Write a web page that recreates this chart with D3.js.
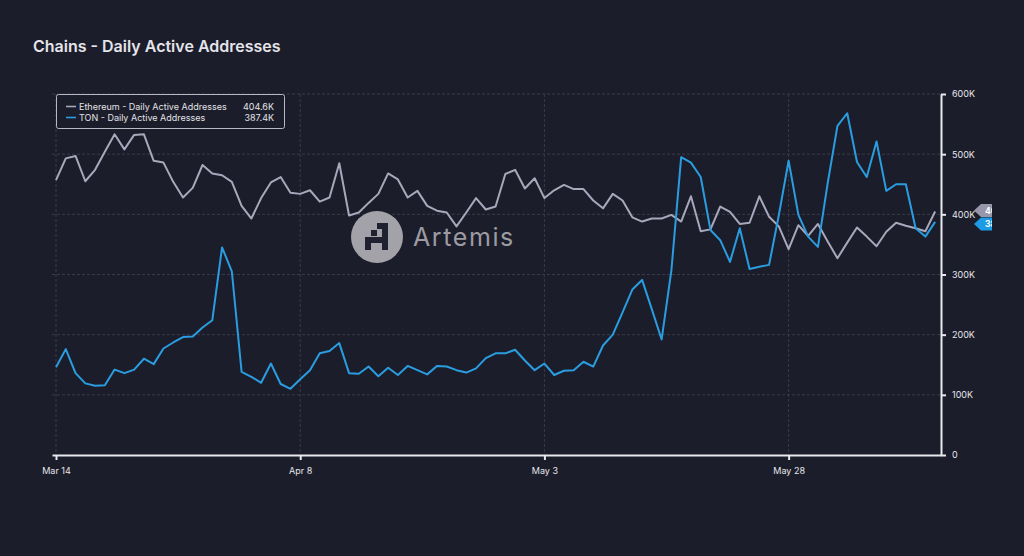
<!DOCTYPE html>
<html><head><meta charset="utf-8">
<script src="https://cdn.jsdelivr.net/npm/d3@7"></script>
<style>
html,body{margin:0;padding:0;background:#1c1d2a;}
svg{display:block;font-family:Inter,"Noto Sans",sans-serif;}
</style></head>
<body>
<script>
const startDate = "2024-03-14";
const ethValues = [457,493,497,455,474,504,533,508,532,533,489,486,454,428,444,482,468,465,454,414,393,427,453,462,436,434,440,421,428,485,398,403,419,434,468,458,428,439,414,406,403,380,403,427,408,413,467,474,443,460,427,440,449,442,442,423,410,434,423,395,388,393,393,399,388,430,372,375,413,404,384,386,430,396,380,342,382,364,384,355,327,353,378,363,347,371,386,381,377,372,404.6];
const tonValues = [146,176,136,119,115,116,142,136,142,160,151,177,187,196,197,212,224,345,305,138,130,120,152,118,110,126,141,169,173,186,136,135,147,131,145,133,148,141,134,148,147,141,137,144,161,169,169,175,157,141,152,133,140,141,155,147,182,200,237,275,291,242,192,307,495,486,462,374,357,321,377,309,313,316,399,489,399,363,346,452,547,568,487,462,521,439,450,450,377,363,387.4];
const seriesNames = ["Ethereum - Daily Active Addresses","TON - Daily Active Addresses"];
const lastLabels = ["404.6K","387.4K"];
const xTickDates = ["2024-03-14","2024-04-08","2024-05-03","2024-05-28"];
const yTicks = [0,100,200,300,400,500,600];

const W=1024,H=556;
const svg=d3.select("body").append("svg").attr("width",W).attr("height",H);
svg.append("rect").attr("width",W).attr("height",H).attr("fill","#1c1d2a");

const day=86400000;
const t0=new Date(startDate+"T00:00:00Z");
const dates=ethValues.map((_,i)=>new Date(t0.getTime()+i*day));
const x=d3.scaleUtc().domain([new Date(t0.getTime()-0.41*day), new Date(t0.getTime()+90.6*day)]).range([52,941]);
const y=d3.scaleLinear().domain([0,600]).range([455,94]);

// title
svg.append("text").attr("x",33).attr("y",52).attr("fill","#e4e4ea").attr("font-size",16).attr("font-weight",600).text("Chains - Daily Active Addresses");

// grid
const g=svg.append("g");
g.selectAll("line.hg").data(yTicks.filter(d=>d>0)).join("line")
 .attr("x1",52).attr("x2",941).attr("y1",d=>y(d)).attr("y2",d=>y(d))
 .attr("stroke","#3a3b4a").attr("stroke-width",1).attr("stroke-dasharray","3,2");
const tickDates=xTickDates.map(s=>new Date(s+"T00:00:00Z"));
g.selectAll("line.vg").data(tickDates).join("line")
 .attr("x1",d=>x(d)).attr("x2",d=>x(d)).attr("y1",94).attr("y2",455)
 .attr("stroke","#3a3b4a").attr("stroke-width",1).attr("stroke-dasharray","3,2");

// watermark
const wm=svg.append("g").attr("transform","translate(377,237)");
wm.append("circle").attr("r",26).attr("fill","#a3a2a8");
const blocks=[[5,-14,6,27],[0,-14,5,6],[-6,-7,6,6],[-12,0,6,13],[-12,0,23,6]];
wm.selectAll("rect").data(blocks).join("rect")
 .attr("x",d=>d[0]).attr("y",d=>d[1]).attr("width",d=>d[2]).attr("height",d=>d[3]).attr("fill","#1f2030");
svg.append("text").attr("x",413).attr("y",246).attr("fill","#9c9ba2").attr("font-size",25).attr("letter-spacing",1.6).attr("font-family","Inter,'Noto Sans',sans-serif").text("Artemis");

// axes
const xAxis=d3.axisBottom(x).tickValues(tickDates).tickFormat(d3.utcFormat("%b %-d")).tickSize(5).tickSizeOuter(0);
const xg=svg.append("g").attr("transform","translate(0,455)").call(xAxis);
xg.select(".domain").attr("stroke","#e8e8ee").attr("stroke-width",2);
xg.selectAll(".tick line").attr("stroke","#e8e8ee").attr("stroke-width",2);
xg.selectAll(".tick text").attr("fill","#e6e6ec").attr("font-size",9).attr("dy","1.2em").attr("font-family","Inter,'Noto Sans',sans-serif");

const yAxis=d3.axisRight(y).tickValues(yTicks).tickFormat(d=>d===0?"0":d+"K").tickSize(5).tickSizeOuter(0);
const yg=svg.append("g").attr("transform","translate(941,0)").call(yAxis);
yg.select(".domain").attr("stroke","#e8e8ee").attr("stroke-width",2);
yg.selectAll(".tick line").attr("stroke","#e8e8ee").attr("stroke-width",2);
yg.selectAll(".tick text").attr("fill","#e6e6ec").attr("font-size",9).attr("x",11).attr("font-family","Inter,'Noto Sans',sans-serif");

// lines
const line=d3.line().x((d,i)=>x(dates[i])).y(d=>y(d));
svg.append("path").datum(ethValues).attr("d",line).attr("fill","none").attr("stroke","#a9a7bb").attr("stroke-width",2).attr("stroke-linejoin","round");
svg.append("path").datum(tonValues).attr("d",line).attr("fill","none").attr("stroke","#2a9de0").attr("stroke-width",2).attr("stroke-linejoin","round");

// right badges
svg.append("clipPath").attr("id","bc").append("rect").attr("x",960).attr("y",0).attr("width",32).attr("height",H);
const bg=svg.append("g").attr("clip-path","url(#bc)");
const badge=[{v:ethValues[90],c:"#9896aa",t:lastLabels[0]},{v:tonValues[90],c:"#1e9be6",t:lastLabels[1]}];
badge.forEach((b,k)=>{
  const yy=y(b.v)+(k===0?-1:2);
  bg.append("path").attr("d",`M974,${yy} L981,${yy-6.5} L1020,${yy-6.5} L1020,${yy+6.5} L981,${yy+6.5} Z`).attr("fill",b.c);
  bg.append("text").attr("x",985).attr("y",yy+3).attr("fill","#ffffff").attr("font-size",8.5).attr("font-weight",700).text(b.t);
});

// legend
const lg=svg.append("g");
lg.append("rect").attr("x",56.5).attr("y",94.5).attr("width",228).attr("height",34).attr("rx",2).attr("fill","#1c1d2a").attr("stroke","#b9b9c4").attr("stroke-width",1);
const cols=["#a9a7bb","#2a9de0"];
seriesNames.forEach((n,k)=>{
  const yy=107+k*11;
  lg.append("line").attr("x1",66).attr("x2",76).attr("y1",yy-0.5).attr("y2",yy-0.5).attr("stroke",cols[k]).attr("stroke-width",1.6);
  lg.append("text").attr("x",79).attr("y",yy+3).attr("fill","#e2e2e8").attr("font-size",9).text(n);
  lg.append("text").attr("x",274).attr("y",yy+3).attr("text-anchor","end").attr("fill","#e2e2e8").attr("font-size",9).text(lastLabels[k]);
});
</script>
</body></html>
